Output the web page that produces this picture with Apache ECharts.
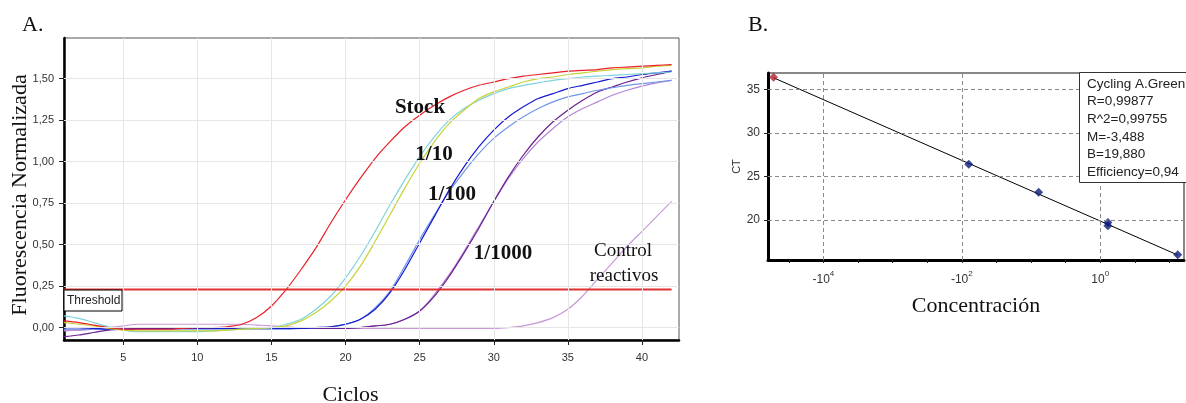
<!DOCTYPE html>
<html>
<head>
<meta charset="utf-8">
<script src="https://cdn.jsdelivr.net/npm/echarts@6/dist/echarts.min.js"></script>
<style>
html,body{margin:0;padding:0;background:#fff;}
#c{width:1186px;height:403px;}
</style>
</head>
<body>
<div id="c"></div>
<script>
// ---------- Panel A data (amplification curves) ----------
const cycles = [1,2,3,4,5,6,7,8,9,10,11,12,13,14,15,16,17,18,19,20,21,22,23,24,25,26,27,28,29,30,31,32,33,34,35,36,37,38,39,40,41,42];
const stock = [0.04,0.03,0.015,0.0,-0.01,-0.01,-0.01,-0.01,-0.005,0.0, 0.0,0.005,0.02,0.06,0.13,0.23,0.35,0.48,0.63,0.77, 0.9,1.02,1.12,1.21,1.28,1.34,1.39,1.43,1.46,1.48, 1.5,1.515,1.525,1.535,1.545,1.55,1.555,1.565,1.57,1.575,1.58,1.585];
const dil10a = [0.03,0.02,0.01,-0.005,-0.015,-0.02,-0.02,-0.02,-0.02,-0.02, -0.02,-0.015,-0.01,-0.005,0.0,0.01,0.04,0.09,0.16,0.25, 0.37,0.52,0.68,0.84,0.99,1.12,1.23,1.31,1.38,1.42, 1.45,1.48,1.5,1.51,1.525,1.535,1.545,1.555,1.56,1.565,1.575,1.58];
const dil10b = [0.07,0.055,0.03,0.005,-0.015,-0.025,-0.025,-0.025,-0.025,-0.025, -0.02,-0.015,-0.01,-0.005,0.0,0.02,0.05,0.11,0.19,0.3, 0.43,0.58,0.74,0.89,1.03,1.15,1.25,1.32,1.37,1.41, 1.44,1.46,1.475,1.49,1.5,1.51,1.515,1.52,1.525,1.53,1.535,1.54];
const dil100a = [0.0,0.0,-0.005,-0.01,-0.01,-0.005,-0.005,-0.005,-0.005,-0.005, -0.005,-0.005,-0.005,-0.005,-0.005,-0.005,-0.005,0.0,0.005,0.02, 0.05,0.11,0.21,0.35,0.51,0.67,0.83,0.97,1.09,1.19, 1.27,1.33,1.38,1.41,1.44,1.46,1.48,1.5,1.51,1.525,1.535,1.545];
const dil100b = [-0.01,-0.01,-0.01,-0.01,-0.01,-0.01,-0.01,-0.01,-0.01,-0.01, -0.01,-0.01,-0.01,-0.01,-0.01,-0.01,-0.005,0.0,0.005,0.02, 0.05,0.12,0.22,0.37,0.53,0.68,0.82,0.94,1.05,1.14, 1.21,1.27,1.32,1.36,1.39,1.41,1.43,1.445,1.46,1.47,1.48,1.49];
const dil1000a = [-0.055,-0.045,-0.03,-0.015,-0.01,-0.005,-0.005,-0.005,-0.005,-0.005, -0.005,-0.005,-0.005,-0.005,-0.005,-0.005,-0.005,-0.005,-0.005,-0.005, 0.0,0.01,0.02,0.05,0.1,0.19,0.31,0.45,0.6,0.76, 0.91,1.04,1.15,1.24,1.31,1.37,1.42,1.45,1.48,1.505,1.525,1.545];
const dil1000b = [-0.015,-0.015,-0.01,-0.01,-0.01,-0.005,-0.005,-0.005,-0.005,-0.005, -0.005,-0.005,-0.005,-0.005,-0.005,-0.005,-0.005,-0.005,-0.005,-0.005, 0.0,0.01,0.02,0.05,0.1,0.2,0.32,0.46,0.61,0.76, 0.9,1.02,1.12,1.2,1.27,1.32,1.36,1.4,1.43,1.455,1.475,1.49];
const control = [-0.02,-0.015,-0.01,0.0,0.01,0.02,0.02,0.02,0.02,0.02, 0.02,0.02,0.02,0.015,0.01,0.005,0.0,0.0,-0.005,-0.005, -0.005,-0.005,-0.005,-0.005,-0.005,-0.005,-0.005,-0.005,-0.005,-0.005, 0.0,0.01,0.03,0.06,0.11,0.19,0.29,0.39,0.49,0.58,0.67,0.76];
const thresholdValue = 0.23;
const thresholdSpan = [1, 42];
const aXTicks = [5,10,15,20,25,30,35,40];
const aYTicks = [0,0.25,0.5,0.75,1.0,1.25,1.5];

// ---------- Panel B data (standard curve) ----------
const bLogConc = [-4.72, -1.90, -0.89, 0.11, 0.11, 1.12];
const bCt = [36.4, 26.4, 23.2, 19.7, 19.35, 16.0];
const fitLogConc = [-4.72, 1.12];
const fitCt = [36.35, 15.97];
const bXLabelTicks = [-4, -2, 0];
const bXMinorTicks = [-4.5,-4,-3.5,-3,-2.5,-2,-1.5,-1,-0.5,0,0.5,1];
const bYTicks = [20,25,30,35];
const statsLines = ['Cycling A.Green','R=0,99877','R^2=0,99755','M=-3,488','B=19,880','Efficiency=0,94'];

const SERIF = '"Liberation Serif","Times New Roman",serif';
const SANS = '"Liberation Sans",Arial,sans-serif';

const chart = echarts.init(document.getElementById('c'), null, {renderer:'canvas'});

function pairs(xs, ys){ return xs.map((x,i)=>[x, ys[i]]); }

function curve(name, arr, color){
  return {
    name, type:'line', xAxisIndex:0, yAxisIndex:0,
    data: pairs(cycles, arr),
    showSymbol:false, symbol:'none',
    smooth:0.3,
    lineStyle:{color, width:1.2},
    z:3, animation:false, silent:true
  };
}

const aGridLines = aXTicks.map(v=>({xAxis:v})).concat(aYTicks.map(v=>({yAxis:v})));
const bGridLines = bXLabelTicks.map(v=>({xAxis:v})).concat(bYTicks.map(v=>({yAxis:v})));

const option = {
  backgroundColor:'#ffffff',
  animation:false,
  grid:[
    {left:64, top:38, width:615, height:302, outerBoundsMode:'none', containLabel:false, show:true, borderColor:'#555', borderWidth:1, backgroundColor:'#fff'},
    {left:768, top:73, width:416, height:187, outerBoundsMode:'none', containLabel:false, show:true, borderColor:'#111', borderWidth:1, backgroundColor:'#fff'}
  ],
  xAxis:[
    {type:'value', gridIndex:0, min:1, max:42.5,
     axisLine:{show:true, onZero:false, lineStyle:{color:'#000', width:2.5}},
     axisTick:{show:true, length:5, customValues:aXTicks, lineStyle:{color:'#222'}},
     axisLabel:{customValues:aXTicks, margin:12, color:'#333', fontFamily:SANS, fontSize:11},
     splitLine:{show:false},
     name:'Ciclos', nameLocation:'middle', nameGap:44, nameMoveOverlap:false,
     nameTextStyle:{fontFamily:SERIF, fontSize:22, color:'#111', padding:[0,42,0,0]}
    },
    {type:'value', gridIndex:1, min:-4.8, max:1.21,
     axisLine:{show:true, onZero:false, lineStyle:{color:'#000', width:3}},
     axisTick:{show:true, length:3, customValues:bXMinorTicks, lineStyle:{color:'#222'}},
     axisLabel:{customValues:bXLabelTicks, margin:10, color:'#333',
       formatter:function(v){ return v<0 ? '{m|-10}{s|'+(-v)+'}' : '{m|10}{s|'+v+'}'; },
       rich:{m:{fontFamily:SANS, fontSize:12, color:'#333', lineHeight:16, verticalAlign:'bottom'},
             s:{fontFamily:SANS, fontSize:8, color:'#333', lineHeight:16, verticalAlign:'top'}}},
     splitLine:{show:false},
     name:'Concentración', nameLocation:'middle', nameGap:35, nameMoveOverlap:false,
     nameTextStyle:{fontFamily:SERIF, fontSize:22, color:'#111'}
    }
  ],
  yAxis:[
    {type:'value', gridIndex:0, min:-0.075, max:1.745,
     axisLine:{show:true, onZero:false, lineStyle:{color:'#000', width:2.5}},
     axisTick:{show:true, length:5, customValues:aYTicks, lineStyle:{color:'#222'}},
     axisLabel:{customValues:aYTicks, margin:10, color:'#333', fontFamily:SANS, fontSize:11,
       formatter:function(v){ return v.toFixed(2).replace('.', ','); }},
     splitLine:{show:false},
     name:'Fluorescencia Normalizada', nameLocation:'middle', nameGap:33, nameMoveOverlap:false,
     nameTextStyle:{fontFamily:SERIF, fontSize:22, color:'#111', padding:[0,12,0,0]}
    },
    {type:'value', gridIndex:1, min:15.4, max:36.9,
     axisLine:{show:true, onZero:false, lineStyle:{color:'#000', width:3}},
     axisTick:{show:true, length:4, customValues:bYTicks, lineStyle:{color:'#222'}},
     axisLabel:{customValues:bYTicks, margin:8, color:'#333', fontFamily:SANS, fontSize:12},
     splitLine:{show:false},
     name:'CT', nameLocation:'middle', nameGap:26, nameMoveOverlap:false,
     nameTextStyle:{fontFamily:SANS, fontSize:11, color:'#333'}
    }
  ],
  series:[
    {name:'gridA', type:'line', xAxisIndex:0, yAxisIndex:0, data:[], z:1, silent:true,
     markLine:{silent:true, symbol:['none','none'], label:{show:false}, animation:false,
       lineStyle:{color:'#e6e6e6', width:1, type:'solid'}, emphasis:{disabled:true}, data:aGridLines}},
    {name:'gridB', type:'line', xAxisIndex:1, yAxisIndex:1, data:[], z:1, silent:true,
     markLine:{silent:true, symbol:['none','none'], label:{show:false}, animation:false,
       lineStyle:{color:'#8a8a8a', width:1, type:[4,3]}, emphasis:{disabled:true}, data:bGridLines}},
    curve('Control reactivos', control, '#c898d8'),
    curve('1/1000 b', dil1000b, '#b486d4'),
    curve('1/1000 a', dil1000a, '#6a2090'),
    curve('1/100 b', dil100b, '#7096e8'),
    curve('1/100 a', dil100a, '#1818d0'),
    curve('1/10 b', dil10b, '#7ed4dc'),
    curve('1/10 a', dil10a, '#c8d238'),
    curve('Stock', stock, '#ea2028'),
    {name:'Threshold', type:'line', xAxisIndex:0, yAxisIndex:0,
     data:[[thresholdSpan[0], thresholdValue],[thresholdSpan[1], thresholdValue]],
     showSymbol:false, symbol:'none', lineStyle:{color:'#e03030', width:2}, z:4, silent:true},
    {name:'Fit', type:'line', xAxisIndex:1, yAxisIndex:1,
     data:pairs(fitLogConc, fitCt), showSymbol:false, symbol:'none',
     lineStyle:{color:'#000', width:1}, z:3, silent:true},
    {name:'Standards', type:'scatter', xAxisIndex:1, yAxisIndex:1,
     data:pairs(bLogConc, bCt).slice(1), symbol:'diamond', symbolSize:9,
     itemStyle:{color:'#0c1c78'}, z:4, silent:true},
    {name:'First', type:'scatter', xAxisIndex:1, yAxisIndex:1,
     data:pairs(bLogConc, bCt).slice(0,1), symbol:'diamond', symbolSize:9,
     itemStyle:{color:'#b0202e'}, z:4, silent:true}
  ],
  graphic:[
    {type:'text', x:22, y:25, style:{text:'A.', font:'22px '+SERIF, fill:'#111', verticalAlign:'middle'}},
    {type:'text', x:748, y:25, style:{text:'B.', font:'22px '+SERIF, fill:'#111', verticalAlign:'middle'}},
    {type:'text', x:420, y:108, style:{text:'Stock', font:'bold 21px '+SERIF, fill:'#111', align:'center', verticalAlign:'middle'}, z:10},
    {type:'text', x:434, y:155, style:{text:'1/10', font:'bold 21px '+SERIF, fill:'#111', align:'center', verticalAlign:'middle'}, z:10},
    {type:'text', x:452, y:195, style:{text:'1/100', font:'bold 21px '+SERIF, fill:'#111', align:'center', verticalAlign:'middle'}, z:10},
    {type:'text', x:503, y:254, style:{text:'1/1000', font:'bold 21px '+SERIF, fill:'#111', align:'center', verticalAlign:'middle'}, z:10},
    {type:'text', x:623, y:251, style:{text:'Control', font:'19px '+SERIF, fill:'#111', align:'center', verticalAlign:'middle'}, z:10},
    {type:'text', x:624, y:276, style:{text:'reactivos', font:'19px '+SERIF, fill:'#111', align:'center', verticalAlign:'middle'}, z:10},
    {type:'rect', shape:{x:64, y:290, width:58, height:21}, style:{fill:'#fff', stroke:'#000', lineWidth:1}, z:10},
    {type:'text', x:67, y:301, style:{text:'Threshold', font:'12px '+SANS, fill:'#222', verticalAlign:'middle'}, z:11},
    {type:'rect', shape:{x:1079.5, y:72.5, width:120, height:110}, style:{fill:'#fff', stroke:'#333', lineWidth:1}, z:10},
    {type:'group', z:11, children: statsLines.map((t,i)=>({
      type:'text', x:1087, y:84 + i*17.6, z:11,
      style:{text:t, font:'13.5px '+SANS, fill:'#222', verticalAlign:'middle'}}))}
  ]
};
chart.setOption(option);
</script>
</body>
</html>
